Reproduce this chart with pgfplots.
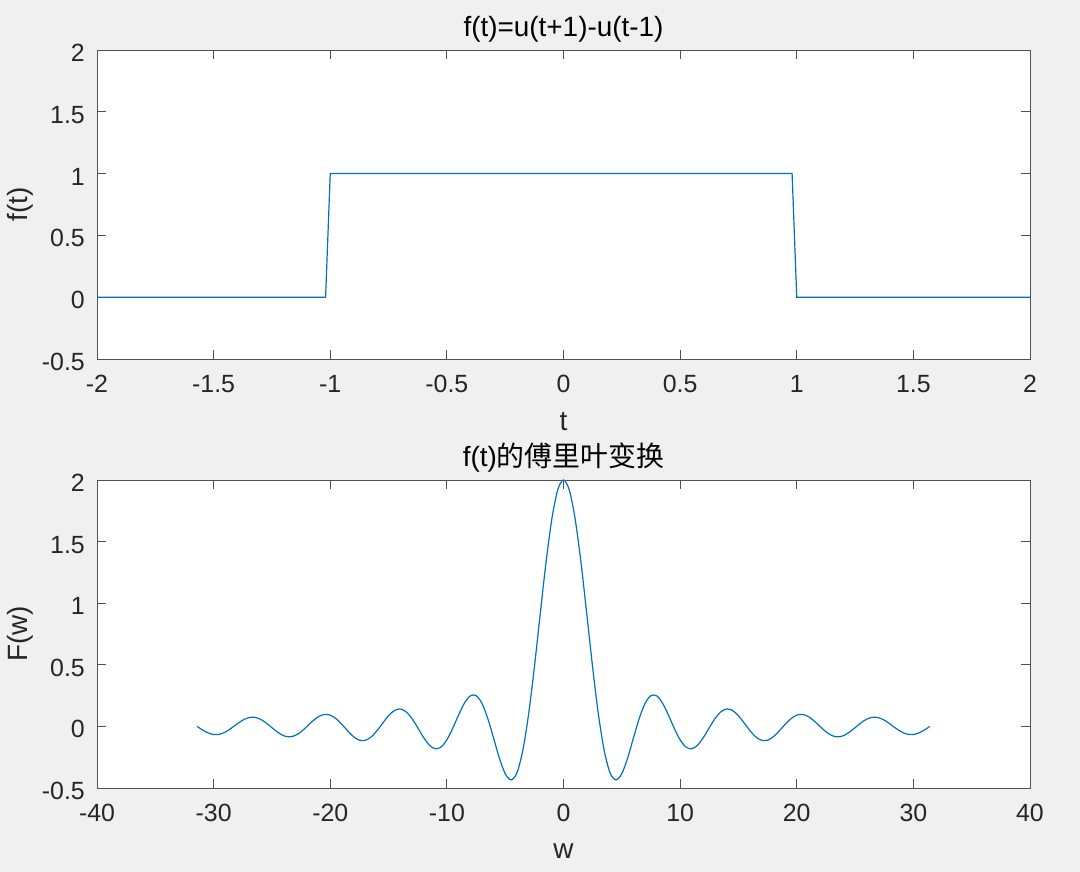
\documentclass[border=0pt]{standalone}
\usepackage{fontspec}
\setmainfont{Liberation Sans}
\newfontfamily\cjk{Noto Sans CJK SC}
\usepackage{pgfplots}
\pgfplotsset{compat=1.18}
\definecolor{figbg}{HTML}{F0F0F0}
\definecolor{axcol}{HTML}{262626}
\definecolor{mblue}{HTML}{0072BD}
\pgfplotsset{
  mstyle/.style={
    scale only axis,
    width=933bp,
    anchor=south west,
    axis background/.style={fill=white},
    axis line style={draw=axcol!80, line width=0.8bp},
    tick style={draw=axcol!80, line width=0.8bp},
    major tick length=9bp,
    tick align=inside,
    tick pos=both,
    every tick label/.append style={font=\fontsize{25pt}{29pt}\selectfont, text=axcol},
    yticklabel style={anchor=east, inner sep=0pt, xshift=-12bp, yshift=-3bp},
    xticklabel style={anchor=north, inner sep=0pt, yshift=-16bp},
    label style={font=\fontsize{28pt}{32pt}\selectfont, text=axcol},
    title style={font=\fontsize{28pt}{32pt}\selectfont, text=black, anchor=base, inner sep=0pt},
    ymin=-0.5, ymax=2,
    ytick={-0.5,0,0.5,1,1.5,2},
    yticklabels={-0.5,0,0.5,1,1.5,2},
  }
}
\begin{document}
\begin{tikzpicture}
\fill[figbg] (0bp,0bp) rectangle (1080bp,872bp);
\begin{axis}[mstyle,
  at={(97bp,513bp)}, height=309bp,
  xmin=-2, xmax=2,
  xtick={-2,-1.5,-1,-0.5,0,0.5,1,1.5,2},
  xticklabels={-2,-1.5,-1,-0.5,0,0.5,1,1.5,2},
  title={f(t)=u(t+1)-u(t-1)},
  title style={at={(axis description cs:0.5,1.0227)}},
  xlabel={t},
  xlabel style={at={(axis description cs:0.5,-0.2298)}, anchor=base, inner sep=0pt},
  ylabel={f(t)},
  ylabel style={at={(axis description cs:-0.0825,0.5)}, anchor=center},
]
\addplot[mblue, line width=1.2bp] coordinates {
(-2,0) (-1.02,0) (-1.0,1) (0.98,1) (1.0,0) (2,0)
};
\end{axis}
\begin{axis}[mstyle,
  at={(97bp,84bp)}, height=308bp,
  xmin=-40, xmax=40,
  xtick={-40,-30,-20,-10,0,10,20,30,40},
  xticklabels={-40,-30,-20,-10,0,10,20,30,40},
  title={f(t){\cjk 的傅里叶变换}},
  title style={at={(axis description cs:0.5,1.026)}},
  xlabel={w},
  xlabel style={at={(axis description cs:0.5,-0.2305)}, anchor=base, inner sep=0pt},
  ylabel={F(w)},
  ylabel style={at={(axis description cs:-0.0825,0.5)}, anchor=center},
]
\addplot[mblue, line width=1.2bp, smooth] coordinates {
(-31.4159,0) (-31,-0.026067) (-30.5,-0.051985) (-30,-0.065869) (-29.5,-0.063796)
(-29,-0.045768) (-28.5,-0.015717) (-28,0.019350) (-27.5,0.050858) (-27,0.070843)
(-26.5,0.073917) (-26,0.058658) (-25.5,0.028165) (-25,-0.010588) (-24.5,-0.047424)
(-24,-0.075465) (-23.5,-0.084938) (-23,-0.073584) (-22.5,-0.043304) (-22,-0.000805)
(-21.5,0.043511) (-21,0.079682) (-20.5,0.097285) (-20,0.091295) (-19.5,0.062120)
(-19,0.015777) (-18.5,-0.036577) (-18,-0.083443) (-17.5,-0.112410) (-17,-0.113105)
(-16.5,-0.086310) (-16,-0.035988) (-15.5,0.026641) (-15,0.086705) (-14.5,0.128951)
(-14,0.141515) (-13.5,0.119079) (-13,0.064641) (-12.5,-0.010612) (-12,-0.089429)
(-11.5,-0.152253) (-11,-0.181816) (-10.5,-0.167561) (-10,-0.108804) (-9.5,-0.015821)
(-9,0.091582) (-8.5,0.187879) (-8,0.247340) (-7.5,0.250133) (-7,0.187711)
(-6.5,0.066191) (-6,-0.093138) (-5.5,-0.256560) (-5,-0.383570) (-4.5,-0.434458)
(-4,-0.378401) (-3.5,-0.200447) (-3,0.094080) (-2.5,0.478778) (-2,0.909297)
(-1.5,1.329993) (-1,1.682942) (-0.5,1.917702) (0,2)
(0.5,1.917702) (1,1.682942) (1.5,1.329993) (2,0.909297) (2.5,0.478778)
(3,0.094080) (3.5,-0.200447) (4,-0.378401) (4.5,-0.434458) (5,-0.383570)
(5.5,-0.256560) (6,-0.093138) (6.5,0.066191) (7,0.187711) (7.5,0.250133)
(8,0.247340) (8.5,0.187879) (9,0.091582) (9.5,-0.015821) (10,-0.108804)
(10.5,-0.167561) (11,-0.181816) (11.5,-0.152253) (12,-0.089429) (12.5,-0.010612)
(13,0.064641) (13.5,0.119079) (14,0.141515) (14.5,0.128951) (15,0.086705)
(15.5,0.026641) (16,-0.035988) (16.5,-0.086310) (17,-0.113105) (17.5,-0.112410)
(18,-0.083443) (18.5,-0.036577) (19,0.015777) (19.5,0.062120) (20,0.091295)
(20.5,0.097285) (21,0.079682) (21.5,0.043511) (22,-0.000805) (22.5,-0.043304)
(23,-0.073584) (23.5,-0.084938) (24,-0.075465) (24.5,-0.047424) (25,-0.010588)
(25.5,0.028165) (26,0.058658) (26.5,0.073917) (27,0.070843) (27.5,0.050858)
(28,0.019350) (28.5,-0.015717) (29,-0.045768) (29.5,-0.063796) (30,-0.065869)
(30.5,-0.051985) (31,-0.026067) (31.4159,0)
};
\end{axis}
\pgfresetboundingbox
\path[use as bounding box] (0bp,0bp) rectangle (1080bp,872bp);
\end{tikzpicture}
\end{document}
